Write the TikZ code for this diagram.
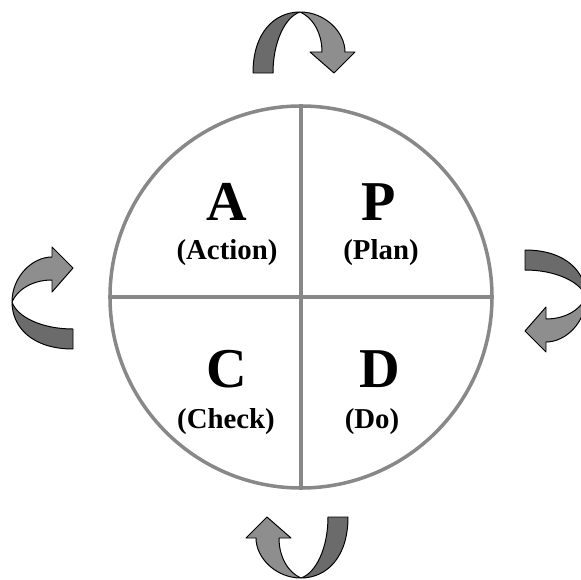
\documentclass[tikz,border=0pt]{standalone}
\usepackage{fontspec}
\setmainfont{Liberation Serif}
\usetikzlibrary{positioning}
\definecolor{ring}{HTML}{888888}
\definecolor{twistdark}{HTML}{6B6B6B}
\definecolor{twistlight}{HTML}{8E8E8E}
\tikzset{
  bigletter/.style={font=\fontsize{80}{80}\selectfont\bfseries,inner sep=0pt,anchor=base},
  smalllabel/.style={font=\fontsize{41}{41}\selectfont\bfseries,inner sep=0pt,anchor=base},
  ribbon/.style={draw=black,line width=1.4pt,line join=round},
  cyclearrow/.pic={
    % leg half
    \path[ribbon,fill=twistdark] (-47,61) .. controls (-47,20) and (-25,0) .. (0,0)
      .. controls (-15,5) and (-27,30) .. (-27,61) -- cycle;
    % head half
    \path[ribbon,fill=twistlight] (0,0) .. controls (25,0) and (45,20) .. (45,40)
      -- (55,40) -- (34,61) -- (10,40) -- (22,40)
      .. controls (22,20) and (12,5) .. (0,0) -- cycle;
  }
}

\begin{document}
\begin{tikzpicture}[x=0.05cm,y=-0.05cm]
  \useasboundingbox (0,0) rectangle (581,580);
  \clip (0,0) rectangle (581,580);

  % Wheel
  \node[circle,draw=ring,line width=5pt,minimum size=382*0.05cm,inner sep=0pt] (wheel) at (301,297) {};
  \draw[ring,line width=5pt] (wheel.north) -- (wheel.south);
  \draw[ring,line width=5pt] (wheel.west) -- (wheel.east);

  % Quarters
  \node[bigletter] (letA) at (227,220) {A};
  \node[smalllabel] (txtA) at (227,259) {(Action)};
  \node[bigletter] (letP) at (379,220) {P};
  \node[smalllabel] (txtP) at (381,259) {(Plan)};
  \node[bigletter] (letC) at (227,387) {C};
  \node[smalllabel] (txtC) at (226,428) {(Check)};
  \node[bigletter] (letD) at (380,387) {D};
  \node[smalllabel] (txtD) at (372,428) {(Do)};

  % Turning arrows
  \pic at (300,12) {cyclearrow};
  \pic[rotate=-90] at (586,297) {cyclearrow};
  \pic[rotate=180] at (301,578) {cyclearrow};
  \pic[rotate=90] at (12,302) {cyclearrow};
\end{tikzpicture}
\end{document}
